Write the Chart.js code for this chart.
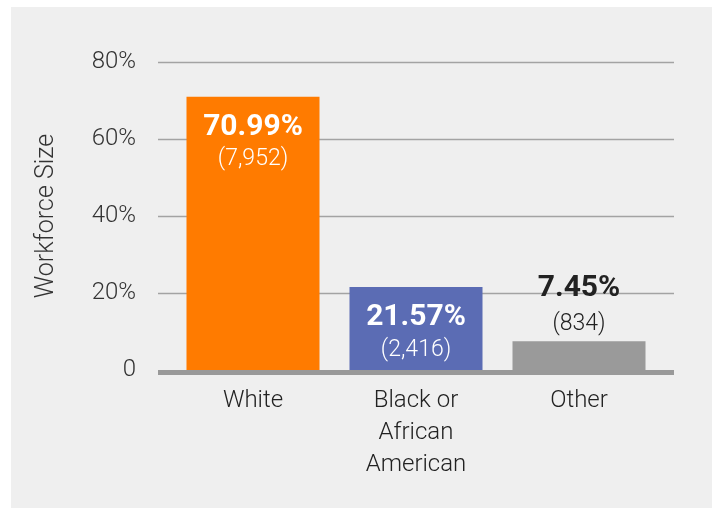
<!DOCTYPE html>
<html>
<head>
<meta charset="utf-8">
<script src="https://cdn.jsdelivr.net/npm/chart.js@4"></script>
<style>
  html, body { margin: 0; padding: 0; background: #ffffff; }
  #panel { position: absolute; left: 11px; top: 7px; width: 701px; height: 501px; background: #efefef; }
</style>
</head>
<body>
<div id="panel"><canvas id="workforce"></canvas></div>
<script>
var categories = [['White'], ['Black or', 'African', 'American'], ['Other']];
var shares = [70.99, 21.57, 7.45];
var counts = [7952, 2416, 834];
var yTicks = [0, 20, 40, 60, 80];
var barColors = ['#ff7b00', '#5b6cb4', '#9a9a9a'];

var FONT = 'Roboto, "Liberation Sans", sans-serif';

// horizontal rules, a little wider than the plot area, plus the heavy base line
var gridPlugin = {
  id: 'rules',
  beforeDatasetsDraw: function(chart) {
    var ctx = chart.ctx, y = chart.scales.y, a = chart.chartArea;
    ctx.save();
    ctx.strokeStyle = '#a3a3a3';
    ctx.lineWidth = 1.5;
    yTicks.forEach(function(v) {
      if (v === 0) return;
      var py = Math.round(y.getPixelForValue(v)) + 0.5;
      ctx.beginPath();
      ctx.moveTo(a.left - 13.5, py);
      ctx.lineTo(a.right + 13.5, py);
      ctx.stroke();
    });
    ctx.restore();
  },
  afterDatasetsDraw: function(chart) {
    var ctx = chart.ctx, y = chart.scales.y, a = chart.chartArea;
    var py = y.getPixelForValue(0);
    ctx.save();
    ctx.fillStyle = '#999999';
    ctx.fillRect(a.left - 13.5, py, a.width + 27, 5);
    ctx.restore();
  }
};

// percentage and headcount on each bar
var labelPlugin = {
  id: 'barLabels',
  afterDatasetsDraw: function(chart) {
    var ctx = chart.ctx;
    var meta = chart.getDatasetMeta(0);
    ctx.save();
    ctx.textAlign = 'center';
    ctx.textBaseline = 'middle';
    meta.data.forEach(function(bar, i) {
      var h = bar.base - bar.y;
      var inside = h > 60;
      var pctY = inside ? bar.y + 31 : bar.y - 53;
      var cntY = inside ? bar.y + 63 : bar.y - 17;
      ctx.fillStyle = inside ? '#ffffff' : '#222222';
      ctx.font = 'bold 30px ' + FONT;
      ctx.fillText(shares[i].toFixed(2) + '%', bar.x, pctY);
      ctx.font = '300 23px ' + FONT;
      ctx.fillText('(' + counts[i].toLocaleString('en-US') + ')', bar.x, cntY);
    });
    ctx.restore();
  }
};

new Chart(document.getElementById('workforce').getContext('2d'), {
  type: 'bar',
  data: {
    labels: categories,
    datasets: [{
      data: shares,
      backgroundColor: barColors,
      borderWidth: 0,
      categoryPercentage: 1,
      barPercentage: 0.816
    }]
  },
  options: {
    responsive: true,
    maintainAspectRatio: false,
    devicePixelRatio: 1,
    animation: false,
    layout: { padding: { top: 55, right: 51.5, bottom: 0, left: 0 } },
    plugins: { legend: { display: false }, tooltip: { enabled: false } },
    scales: {
      x: {
        grid: { display: false, drawTicks: false },
        border: { display: false },
        ticks: {
          color: '#222222',
          padding: 15,
          font: { family: FONT, size: 24, weight: '300', lineHeight: 1.333 }
        },
        afterFit: function(s) { s.height = 138; }
      },
      y: {
        min: 0,
        max: 80,
        grid: { display: false, drawTicks: false },
        border: { display: false },
        afterBuildTicks: function(s) { s.ticks = yTicks.map(function(v) { return { value: v }; }); },
        ticks: {
          color: '#333333',
          padding: 35.5,
          font: { family: FONT, size: 24, weight: '300' },
          callback: function(v) { return v === 0 ? '0' : v + '%'; }
        },
        title: {
          display: true,
          text: 'Workforce Size',
          color: '#333333',
          padding: { top: 21, bottom: 0 },
          font: { family: FONT, size: 25, weight: '300' }
        },
        afterFit: function(s) { s.width = 160.5; }
      }
    }
  },
  plugins: [gridPlugin, labelPlugin]
});
</script>
</body>
</html>
